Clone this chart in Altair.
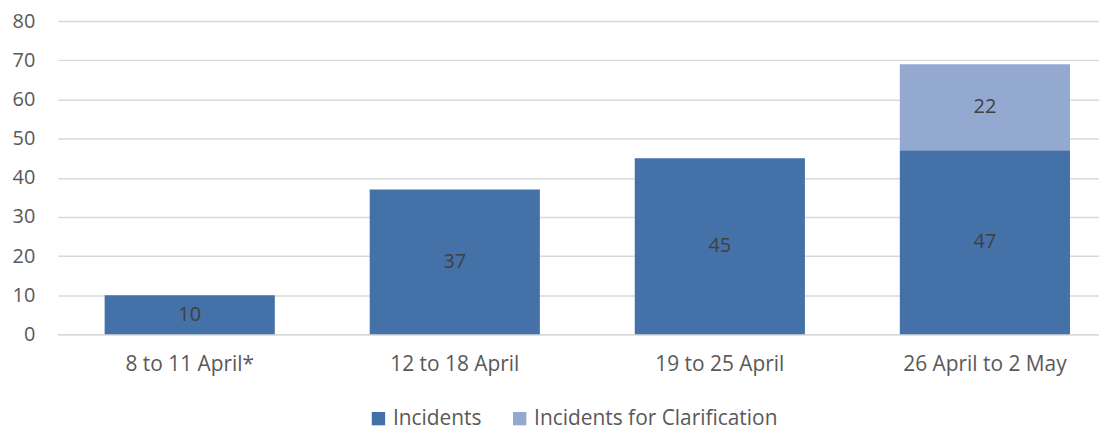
import altair as alt
import pandas as pd

periods = ["8 to 11 April*", "12 to 18 April", "19 to 25 April", "26 April to 2 May"]
incidents = [10, 37, 45, 47]
clarification = [0, 0, 0, 22]
series = ["Incidents", "Incidents for Clarification"]
colors = ["#4472A8", "#94A9D0"]

rows = []
for p, a, b in zip(periods, incidents, clarification):
    rows.append({"period": p, "series": series[0], "value": a, "ord": 0})
    if b:
        rows.append({"period": p, "series": series[1], "value": b, "ord": 1})
df = pd.DataFrame(rows)

FONT = "Open Sans"
FS = 21
FSN = 20

base = alt.Chart(df).transform_stack(
    stack="value", groupby=["period"], as_=["v0", "v1"], sort=[alt.SortField("ord")]
).transform_calculate(mid="(datum.v0 + datum.v1) / 2")

x_scale = alt.Scale(paddingInner=0.358, paddingOuter=0.177, range=[0, 1065])
x_axis = alt.Axis(labelAngle=0, labelFontSize=FS, labelColor="#595959", labelFont=FONT,
                  labelPadding=19, ticks=False, domainColor="#d9d9d9", domainWidth=1.5,
                  labelLimit=400, grid=False)
y_scale = alt.Scale(domain=[0, 80], nice=False)
y_axis = alt.Axis(values=list(range(0, 81, 10)), labelFontSize=FSN, labelColor="#595959",
                  labelFont=FONT, labelPadding=23, ticks=False, domain=False,
                  gridColor="#d9d9d9", gridWidth=1.5, labelOverlap=False)

bars = base.mark_bar().encode(
    x=alt.X("period:N", sort=periods, title=None, scale=x_scale, axis=x_axis),
    y=alt.Y("v0:Q", title=None, scale=y_scale, axis=y_axis),
    y2="v1:Q",
    color=alt.Color("series:N", sort=series, scale=alt.Scale(domain=series, range=colors),
                    legend=alt.Legend(title=None, orient="none", direction="horizontal",
                                      legendX=312, legendY=389, symbolType="square",
                                      symbolSize=180, symbolStrokeWidth=0, labelFontSize=FS,
                                      labelColor="#595959", labelFont=FONT, columnPadding=27,
                                      symbolOffset=0, labelOffset=4, labelLimit=400)),
)

labels = base.mark_text(fontSize=FSN, color="#404040", font=FONT).encode(
    x=alt.X("period:N", sort=periods, title=None, scale=x_scale, axis=x_axis),
    y=alt.Y("mid:Q", title=None, scale=y_scale, axis=y_axis),
    text="value:Q",
)

chart = (bars + labels).properties(
    width=1042, height=315,
    autosize=alt.AutoSizeParams(type="none"),
    padding={"left": 50, "top": 12, "right": 5, "bottom": 95},
).configure_view(stroke=None)

chart.save("out.html", embed_options={"renderer": "svg", "actions": False})
